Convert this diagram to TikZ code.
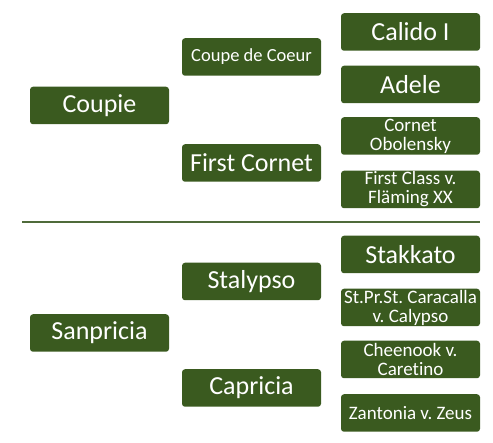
\documentclass[tikz,border=0pt]{standalone}
\usepackage{fontspec}
\setmainfont{Carlito}[Ligatures={NoCommon}]
\frenchspacing
\definecolor{boxgreen}{HTML}{3A5A1F}
\definecolor{linegreen}{HTML}{4F6B3A}
\begin{document}
\begin{tikzpicture}[x=1pt,y=1pt,
  box/.style={fill=boxgreen, rounded corners=3pt, text=white, minimum width=139pt, minimum height=37.5pt, inner sep=0pt, align=center},
  big/.style={box, font=\fontsize{26}{26}\selectfont},
  small/.style={box, font=\fontsize{19}{19}\selectfont}]
\useasboundingbox (0,0) rectangle (493,443);
% column 1
\node[big] (coupie) at (99.5,{443-105.5}) {Coupie};
\node[big] (sanpricia) at (99.5,{443-333}) {Sanpricia};
% column 2
\node[small, font=\fontsize{18.5}{18.5}\selectfont] (coupe) at (251.5,{443-57}) {Coupe de Coeur};
\node[big] (firstcornet) at (251.5,{443-163}) {First Cornet};
\node[big] (stalypso) at (251.5,{443-281.5}) {Stalypso};
\node[big] (capricia) at (251.5,{443-388}) {Capricia};
% column 3
\node[big] (calido) at (410.5,{443-32}) {Calido I};
\node[big] (adele) at (410.5,{443-84.5}) {Adele};
\node[small] (cornet) at (410.5,{443-136}) {Cornet\\Obolensky};
\node[small] (firstclass) at (410.5,{443-189.5}) {First Class v.\\Fläming XX};
\node[big] (stakkato) at (410.5,{443-254.5}) {Stakkato};
\node[small] (caracalla) at (410.5,{443-307.5}) {St.Pr.St. Caracalla\\v. Calypso};
\node[small] (cheenook) at (410.5,{443-359.5}) {Cheenook v.\\Caretino};
\node[small] (zantonia) at (410.5,{443-413}) {Zantonia v. Zeus};
% divider
\coordinate (divL) at (22,{443-222});
\coordinate (divR) at (480,{443-222});
\draw[linegreen, line width=2pt] (divL) -- (divR);
\end{tikzpicture}
\end{document}
